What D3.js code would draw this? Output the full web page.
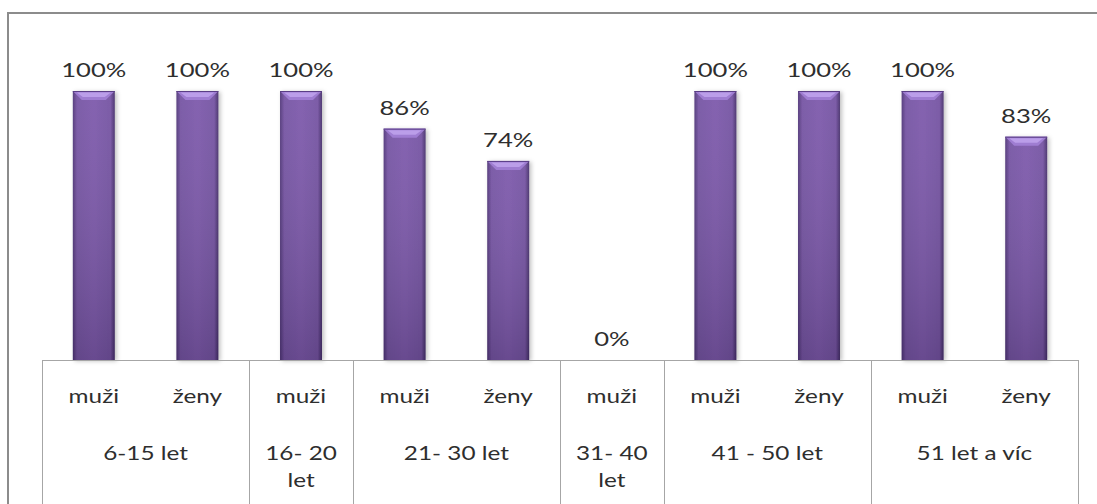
<!DOCTYPE html>
<html>
<head>
<meta charset="utf-8">
<script src="https://cdn.jsdelivr.net/npm/d3@7"></script>
<style>
  body { margin: 0; background: #fff; }
  svg text { font-family: Lato, "Open Sans", sans-serif; font-weight: 400; fill: #2e2e2e; }
</style>
</head>
<body>
<svg id="chart" width="1097" height="504"></svg>
<script>
// age groups (label lines as drawn)
const groupLabels = [["6-15 let"], ["16- 20", "let"], ["21- 30 let"], ["31- 40", "let"], ["41 - 50 let"], ["51 let a víc"]];
// one entry per bar
const sexes = ["muži", "ženy", "muži", "muži", "ženy", "muži", "muži", "ženy", "muži", "ženy"];
const groupOf = [0, 0, 1, 2, 2, 3, 4, 4, 5, 5];
const values = [100, 100, 100, 86, 74, 0, 100, 100, 100, 83];

var svg = d3.select("#chart");
var stretch = 1.28; // text in the picture is stretched sideways

var x = d3.scaleBand()
    .domain(d3.range(values.length))
    .range([42, 1078])
    .padding(0);

var y = d3.scaleLinear()
    .domain([0, 100])
    .range([360, 91]);

var defs = svg.append("defs");

var body = defs.append("linearGradient").attr("id", "barBody")
    .attr("x1", 0).attr("x2", 1).attr("y1", 0).attr("y2", 0);
body.append("stop").attr("offset", "0%").attr("stop-color", "#4f3578");
body.append("stop").attr("offset", "10%").attr("stop-color", "#7553a3");
body.append("stop").attr("offset", "50%").attr("stop-color", "#7c59ab");
body.append("stop").attr("offset", "90%").attr("stop-color", "#7452a2");
body.append("stop").attr("offset", "100%").attr("stop-color", "#452e6a");

var shade = defs.append("linearGradient").attr("id", "barShade")
    .attr("x1", 0).attr("x2", 0).attr("y1", 0).attr("y2", 1);
shade.append("stop").attr("offset", "0%").attr("stop-color", "#fff").attr("stop-opacity", 0.06);
shade.append("stop").attr("offset", "100%").attr("stop-color", "#000").attr("stop-opacity", 0.16);

var shadow = defs.append("filter").attr("id", "shadow")
    .attr("x", "-30%").attr("y", "-10%").attr("width", "160%").attr("height", "120%");
shadow.append("feDropShadow")
    .attr("dx", 2).attr("dy", 1).attr("stdDeviation", 2)
    .attr("flood-color", "#000").attr("flood-opacity", 0.25);

// outer frame (right and bottom edges fall outside the picture)
svg.append("rect")
    .attr("x", 8).attr("y", 13)
    .attr("width", 1110).attr("height", 520)
    .attr("fill", "none")
    .attr("stroke", "#8c8c8c")
    .attr("stroke-width", 2);

var barW = x.bandwidth() * 0.405;
var bevel = 9;

var bars = svg.append("g").selectAll("g")
    .data(values.map((v, i) => ({ v: v, i: i })).filter(d => d.v > 0))
  .enter().append("g");

bars.append("rect")
    .attr("x", d => x(d.i) + (x.bandwidth() - barW) / 2)
    .attr("y", d => y(d.v))
    .attr("width", barW)
    .attr("height", d => y(0) - y(d.v))
    .attr("fill", "url(#barBody)")
    .attr("filter", "url(#shadow)");

bars.append("rect")
    .attr("x", d => x(d.i) + (x.bandwidth() - barW) / 2)
    .attr("y", d => y(d.v))
    .attr("width", barW)
    .attr("height", d => y(0) - y(d.v))
    .attr("fill", "url(#barShade)");

// top bevel facet
bars.append("path")
    .attr("d", d => {
      var x0 = x(d.i) + (x.bandwidth() - barW) / 2, x1 = x0 + barW, t = y(d.v);
      return "M" + x0 + "," + t + "L" + x1 + "," + t + "L" + (x1 - bevel) + "," + (t + bevel) +
        "L" + (x0 + bevel) + "," + (t + bevel) + "Z";
    })
    .attr("fill", "#9f7dd2");

bars.append("path")
    .attr("d", d => {
      var x0 = x(d.i) + (x.bandwidth() - barW) / 2, x1 = x0 + barW, t = y(d.v);
      return "M" + (x0 + 4) + "," + (t + 1.5) + "L" + (x1 - 4) + "," + (t + 1.5) + "L" + (x1 - bevel - 1) + "," + (t + bevel - 3) +
        "L" + (x0 + bevel + 1) + "," + (t + bevel - 3) + "Z";
    })
    .attr("fill", "#c2a6ef")
    .attr("opacity", 0.8);

bars.append("line")
    .attr("x1", d => x(d.i) + (x.bandwidth() - barW) / 2)
    .attr("x2", d => x(d.i) + (x.bandwidth() + barW) / 2)
    .attr("y1", d => y(d.v) + 0.5)
    .attr("y2", d => y(d.v) + 0.5)
    .attr("stroke", "#5a3e86")
    .attr("stroke-width", 1);

function stretchedText(g, tx, ty, str, size) {
  g.append("g")
    .attr("transform", "translate(" + tx + "," + ty + ") scale(" + stretch + ",1)")
    .append("text")
    .attr("text-anchor", "middle")
    .attr("font-size", size)
    .text(str);
}

// value labels
var labels = svg.append("g");
values.forEach((v, i) => {
  stretchedText(labels, x(i) + x.bandwidth() / 2, y(v) - 14, v + "%", 20);
});

// category axis
var axis = svg.append("g").attr("stroke", "#a6a6a6").attr("stroke-width", 1);
axis.append("line")
    .attr("x1", x.range()[0]).attr("x2", x.range()[1])
    .attr("y1", y(0) + 0.5).attr("y2", y(0) + 0.5);

var bounds = [0];
groupOf.forEach((g, i) => { if (i > 0 && g !== groupOf[i - 1]) bounds.push(i); });
bounds.push(values.length);
bounds.forEach(b => {
  var bx = Math.round(b < values.length ? x(b) : x.range()[1]) + 0.5;
  axis.append("line")
    .attr("x1", bx).attr("x2", bx)
    .attr("y1", y(0)).attr("y2", 504);
});

var ticks = svg.append("g");
sexes.forEach((s, i) => {
  stretchedText(ticks, x(i) + x.bandwidth() / 2, 403, s, 19);
});

groupLabels.forEach((lines, g) => {
  var idx = groupOf.map((d, i) => d === g ? i : -1).filter(i => i >= 0);
  var cx = (x(idx[0]) + x(idx[idx.length - 1]) + x.bandwidth()) / 2;
  lines.forEach((ln, k) => {
    stretchedText(ticks, cx, 460 + k * 27, ln, 19);
  });
});
</script>
</body>
</html>
